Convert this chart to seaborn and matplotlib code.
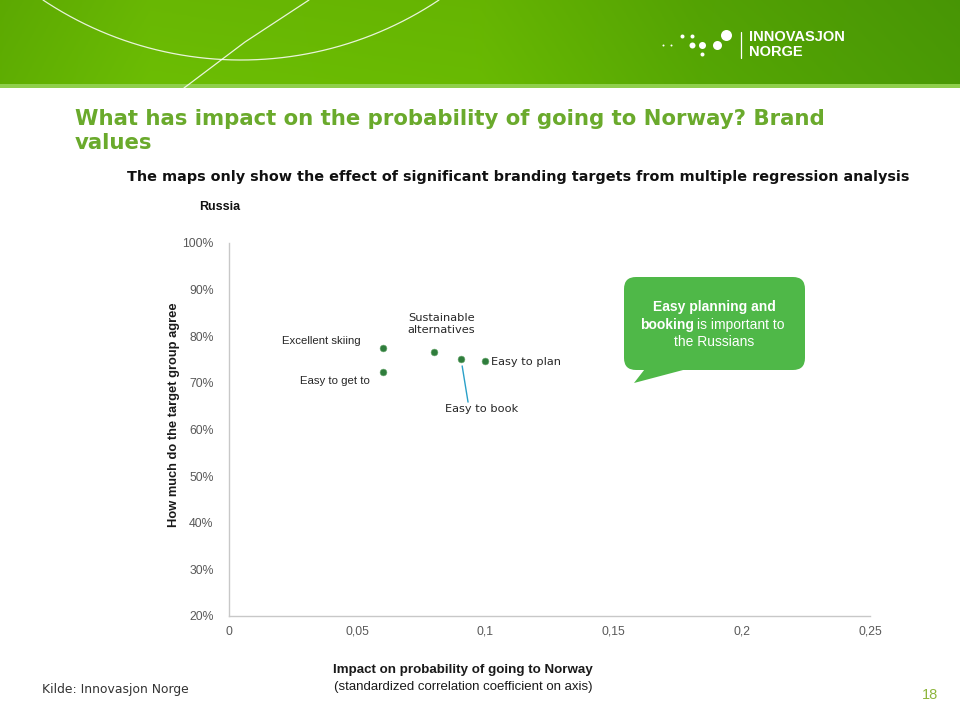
import numpy as np
import pandas as pd
import matplotlib
matplotlib.use("Agg")
import matplotlib.pyplot as plt
from matplotlib.patches import FancyBboxPatch, Polygon
import seaborn as sns

# ---------------- data ----------------
labels = ["Excellent skiing", "Easy to get to", "Sustainable\nalternatives", "Easy to book", "Easy to plan"]
impact = [0.060, 0.060, 0.080, 0.0905, 0.100]
agree = [77.4, 72.3, 76.7, 75.1, 74.7]
x_ticks = [0, 0.05, 0.10, 0.15, 0.20, 0.25]
x_tick_labels = ["0", "0,05", "0,1", "0,15", "0,2", "0,25"]
y_ticks = [20, 30, 40, 50, 60, 70, 80, 90, 100]
y_tick_labels = [f"{v}%" for v in y_ticks]

title = "What has impact on the probability of going to Norway? Brand\nvalues"
subtitle = "The maps only show the effect of significant branding targets from multiple regression analysis"
panel = "Russia"
ylabel = "How much do the target group agree"
xlabel1 = "Impact on probability of going to Norway"
xlabel2 = "(standardized correlation coefficient on axis)"
source = "Kilde: Innovasjon Norge"
page = "18"

# label placement (offset in pixels, alignment, wide font?)
label_offsets = [(-22, 7, "right", False), (-13, -9, "right", False), (7, 28, "center", True),
                 (21, -50, "center", True), (6, -1, "left", True)]

df = pd.DataFrame({"label": labels, "impact": impact, "agree": agree})

sns.set_theme(style="white")
FONT = ["Liberation Sans", "DejaVu Sans"]
WIDE = ["DejaVu Sans"]
plt.rcParams["font.family"] = FONT

W, H = 960, 702
fig = plt.figure(figsize=(9.6, 7.02), dpi=100)
fig.patch.set_facecolor("white")

# main axes
ax = fig.add_axes([229 / W, 1 - 616 / H, (870 - 229) / W, (616 - 243) / H])
ax.set_facecolor("none")
sns.scatterplot(data=df, x="impact", y="agree", ax=ax, color="#2f7d3c",
                s=24, edgecolor="#6aa86f", linewidth=0.4, zorder=3, legend=False)
ax.set_xlim(0, 0.25)
ax.set_ylim(20, 100)
ax.set_xticks(x_ticks)
ax.set_xticklabels(x_tick_labels)
ax.set_yticks(y_ticks)
ax.set_yticklabels(y_tick_labels)
ax.tick_params(axis="both", length=0, labelsize=8.8, labelcolor="#595959")
ax.tick_params(axis="y", pad=11)
ax.tick_params(axis="x", pad=7)
for s in ["top", "right"]:
    ax.spines[s].set_visible(False)
for s in ["left", "bottom"]:
    ax.spines[s].set_color("#c8c8c8")
    ax.spines[s].set_linewidth(1.0)

ax.set_ylabel(ylabel, fontsize=9.3, fontweight="bold", color="#1a1a1a")
ax.yaxis.set_label_coords(-0.077, 0.539)
ax.set_xlabel(xlabel1, fontsize=9.6, fontweight="bold", color="#1a1a1a", va="center")
ax.xaxis.set_label_coords(0.365, -0.145)

# point labels
for (lab, xv, yv), (dx, dy, ha, wide) in zip(zip(labels, impact, agree), label_offsets):
    ax.annotate(lab, (xv, yv), xytext=(dx, dy), textcoords="offset pixels",
                ha=ha, va="center", fontsize=8.2, color="#262626", zorder=4,
                linespacing=1.25, family=WIDE if wide else FONT)
# leader line for "Easy to book"
ib = labels.index("Easy to book")
ax.annotate("", (impact[ib], agree[ib]), xytext=(7, -43), textcoords="offset pixels",
            arrowprops=dict(arrowstyle="-", color="#2aa0c8", lw=1.0,
                            shrinkA=0, shrinkB=5))

# overlay for decoration in pixel coordinates
ov = fig.add_axes([0, 0, 1, 1], zorder=5)
ov.set_xlim(0, W)
ov.set_ylim(H, 0)
ov.axis("off")
ov.patch.set_alpha(0)

# header gradient band
stops_x = [0, 150, 480, 700, 960]
stops_c = ["#5fae02", "#6cbd04", "#69ba02", "#56a704", "#4a9a06"]
rgb = np.array([matplotlib.colors.to_rgb(c) for c in stops_c])
xs = np.linspace(0, W, 480)
grad = np.stack([np.interp(xs, stops_x, rgb[:, k]) for k in range(3)], axis=-1)
ys = np.linspace(0, 1, 40)[:, None, None]
img = grad[None, :, :] * (0.97 + 0.03 * ys)
ov.imshow(img, extent=[0, W, 86, 0], aspect="auto", zorder=0)
ov.fill_between([0, W], 84, 88, color="#8fcf4c", zorder=0.5, lw=0)

# white arcs
t = np.linspace(np.arcsin(296.7 / 356.7), np.pi - np.arcsin(296.7 / 356.7), 200)
ov.plot(241 + 356.7 * np.cos(t), -296.7 + 356.7 * np.sin(t), color="white", lw=0.9, alpha=0.85, zorder=1)
ov.plot([184, 245, 309], [88, 42, 0], color="white", lw=0.9, alpha=0.85, zorder=1)

# logo
dots = [(663, 45, 2), (671, 45, 2), (682, 36, 4), (692, 36, 4), (692, 45, 6),
        (702, 45, 7), (702, 54, 4), (717, 45, 9), (726, 35, 11)]
for dx_, dy_, d in dots:
    ov.scatter([dx_], [dy_], s=(d * 0.72) ** 2, color="white", lw=0, zorder=2)
ov.plot([741, 741], [32, 58], color="white", lw=0.9, zorder=2)
ov.text(749, 37, "INNOVASJON", color="white", fontsize=10.5, fontweight="bold", va="center", ha="left", zorder=2)
ov.text(749, 52, "NORGE", color="white", fontsize=10.5, fontweight="bold", va="center", ha="left", zorder=2)

# titles
ov.text(75, 131, title, color="#6aaa2c", fontsize=15.3, fontweight="bold", ha="left",
        va="center", linespacing=1.3, family=WIDE)
ov.text(127, 177, subtitle, color="#111111", fontsize=10.35, fontweight="bold", ha="left",
        va="center", family=WIDE)
ov.text(199, 207, panel, color="#111111", fontsize=9.0, fontweight="bold", ha="left", va="center")

# x label second line
ov.text(463, 687, xlabel2, color="#1a1a1a", fontsize=9.5, ha="center", va="center")

# footer
ov.text(42, 690, source, color="#333333", fontsize=8.9, ha="left", va="center", family=WIDE)
ov.text(930, 695, page, color="#8db53c", fontsize=10.5, ha="center", va="center")

# callout bubble
box = FancyBboxPatch((624 + 12, 277 + 12), 805 - 624 - 24, 370 - 277 - 24,
                     boxstyle="round,pad=12", fc="#4fb848", ec="none", zorder=3)
ov.add_patch(box)
ov.add_patch(Polygon([(648, 365), (702, 365), (634, 383)], closed=True, fc="#4fb848", ec="none", zorder=3))
ov.text(714, 307, "Easy planning and", color="white", fontsize=10, fontweight="bold",
        ha="center", va="center", zorder=4)
ov.text(694, 325, "booking", color="white", fontsize=10, fontweight="bold",
        ha="right", va="center", zorder=4)
ov.text(697, 325, "is important to", color="white", fontsize=10,
        ha="left", va="center", zorder=4)
ov.text(714, 342, "the Russians", color="white", fontsize=10,
        ha="center", va="center", zorder=4)

fig.savefig("out.png", dpi=100)
